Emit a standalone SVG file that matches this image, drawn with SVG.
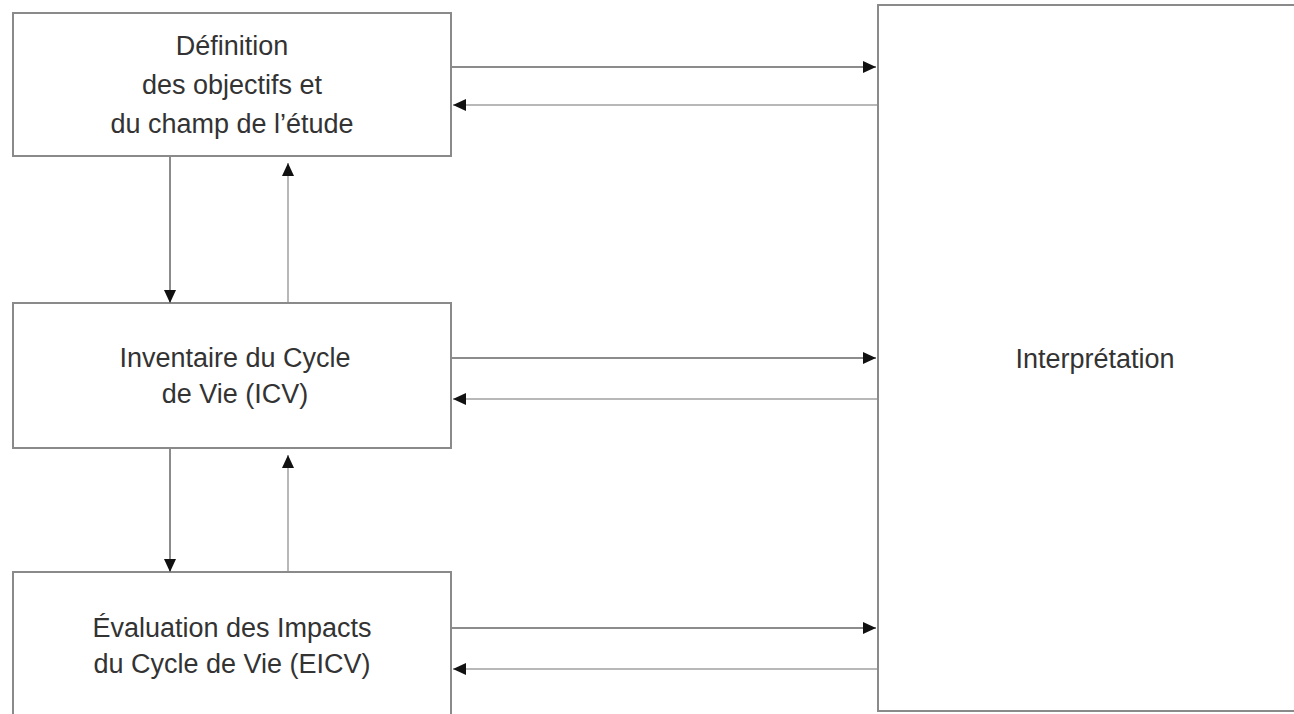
<svg xmlns="http://www.w3.org/2000/svg" width="1294" height="714" viewBox="0 0 1294 714">
  <style>
    .box { fill: #ffffff; stroke: #8a8a8a; stroke-width: 2; }
    .lbl { font-family: "Liberation Sans", Arial, sans-serif; font-size: 27px; fill: #333333; text-anchor: middle; }
    .fwd { stroke: #8c8c8c; stroke-width: 2; fill: none; }
    .bwd { stroke: #b8b8b8; stroke-width: 2; fill: none; }
  </style>
  <defs>
    <marker id="ah" markerUnits="userSpaceOnUse" markerWidth="14" markerHeight="12" viewBox="0 0 14 12" refX="13" refY="6" orient="auto">
      <path d="M0,0 L13,6 L0,12 Z" fill="#111111"/>
    </marker>
  </defs>
  <rect width="1294" height="714" fill="#ffffff"/>

  <g id="node-definition">
    <rect class="box" x="13" y="13" width="438" height="143"/>
    <text class="lbl" x="232" y="55">Définition</text>
    <text class="lbl" x="232" y="94">des objectifs et</text>
    <text class="lbl" x="232" y="133">du champ de l’étude</text>
  </g>

  <g id="node-icv">
    <rect class="box" x="13" y="303" width="438" height="145"/>
    <text class="lbl" x="235" y="367">Inventaire du Cycle</text>
    <text class="lbl" x="235" y="403">de Vie (ICV)</text>
  </g>

  <g id="node-eicv">
    <rect class="box" x="13" y="572" width="438" height="160"/>
    <text class="lbl" x="232" y="637">Évaluation des Impacts</text>
    <text class="lbl" x="232" y="673">du Cycle de Vie (EICV)</text>
  </g>

  <g id="node-interpretation">
    <rect class="box" x="878" y="5" width="430" height="706"/>
    <text class="lbl" x="1095" y="368">Interprétation</text>
  </g>

  <g id="connectors">
    <line class="fwd" x1="170" y1="157" x2="170" y2="303" marker-end="url(#ah)"/>
    <line class="bwd" x1="288" y1="302" x2="288" y2="163" marker-end="url(#ah)"/>
    <line class="fwd" x1="170" y1="449" x2="170" y2="572" marker-end="url(#ah)"/>
    <line class="bwd" x1="288" y1="571" x2="288" y2="455" marker-end="url(#ah)"/>

    <line class="fwd" x1="451" y1="67" x2="876" y2="67" marker-end="url(#ah)"/>
    <line class="bwd" x1="877" y1="105" x2="453" y2="105" marker-end="url(#ah)"/>
    <line class="fwd" x1="451" y1="358" x2="876" y2="358" marker-end="url(#ah)"/>
    <line class="bwd" x1="877" y1="399" x2="453" y2="399" marker-end="url(#ah)"/>
    <line class="fwd" x1="451" y1="628" x2="876" y2="628" marker-end="url(#ah)"/>
    <line class="bwd" x1="877" y1="669" x2="453" y2="669" marker-end="url(#ah)"/>
  </g>
</svg>
